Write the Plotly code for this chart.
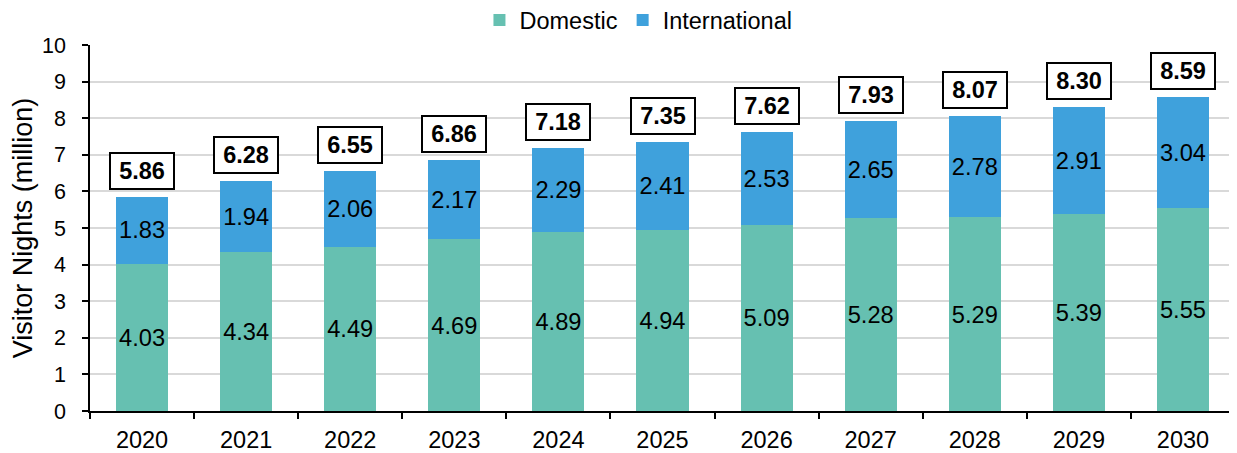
import plotly.graph_objects as go

years = ["2020", "2021", "2022", "2023", "2024", "2025", "2026", "2027", "2028", "2029", "2030"]
domestic = [4.03, 4.34, 4.49, 4.69, 4.89, 4.94, 5.09, 5.28, 5.29, 5.39, 5.55]
international = [1.83, 1.94, 2.06, 2.17, 2.29, 2.41, 2.53, 2.65, 2.78, 2.91, 3.04]
totals = [5.86, 6.28, 6.55, 6.86, 7.18, 7.35, 7.62, 7.93, 8.07, 8.30, 8.59]

FONT = "Liberation Sans, Arial, sans-serif"

fig = go.Figure()
fig.add_trace(go.Bar(
    x=years, y=domestic, name="Domestic", marker_color="#66C0B1", marker_line_width=0,
    text=[f"{v:.2f}" for v in domestic], textposition="inside", insidetextanchor="middle",
    textfont=dict(size=24, color="black", family=FONT), textangle=0,
))
fig.add_trace(go.Bar(
    x=years, y=international, name="International", marker_color="#3FA1DC", marker_line_width=0,
    text=[f"{v:.2f}" for v in international], textposition="inside", insidetextanchor="middle",
    textfont=dict(size=24, color="black", family=FONT), textangle=0,
))

for i, t in enumerate(totals):
    fig.add_annotation(
        x=i, y=t, xref="x", yref="y", text=f"<b>{t:.2f}</b>", showarrow=False,
        yanchor="bottom", yshift=7, width=56, height=28,
        font=dict(size=23.5, color="black", family=FONT),
        bordercolor="black", borderwidth=2, borderpad=3, bgcolor="white",
    )

fig.update_layout(
    barmode="stack", bargap=0.5,
    width=1229, height=445,
    margin=dict(l=82, r=2, t=37, b=42, autoexpand=False),
    paper_bgcolor="white", plot_bgcolor="white",
    font=dict(family=FONT, size=22, color="black"),
    showlegend=True,
    legend=dict(orientation="h", x=0.479, xanchor="center", y=1.068, yanchor="middle",
                font=dict(size=23.5), traceorder="normal", itemwidth=30),
    uniformtext=dict(minsize=10, mode="show"),
)
fig.update_xaxes(
    type="category", showline=True, linecolor="black", linewidth=1.5,
    ticks="outside", tickson="boundaries", ticklen=6, tickcolor="black", tickwidth=1.5,
    tickfont=dict(size=23.5), showgrid=False, tickangle=0, ticklabelstandoff=7,
)
fig.update_yaxes(
    range=[0, 10], dtick=1, showline=True, linecolor="black", linewidth=1.5,
    ticks="outside", ticklen=6, tickcolor="black", tickwidth=1.5,
    showgrid=True, gridcolor="#D9D9D9", gridwidth=1.5, zeroline=False,
    tickfont=dict(size=21.5), ticklabelstandoff=12,
    title=dict(text="Visitor Nights (million)", font=dict(size=27), standoff=9),
)

fig.write_html("out.html")
